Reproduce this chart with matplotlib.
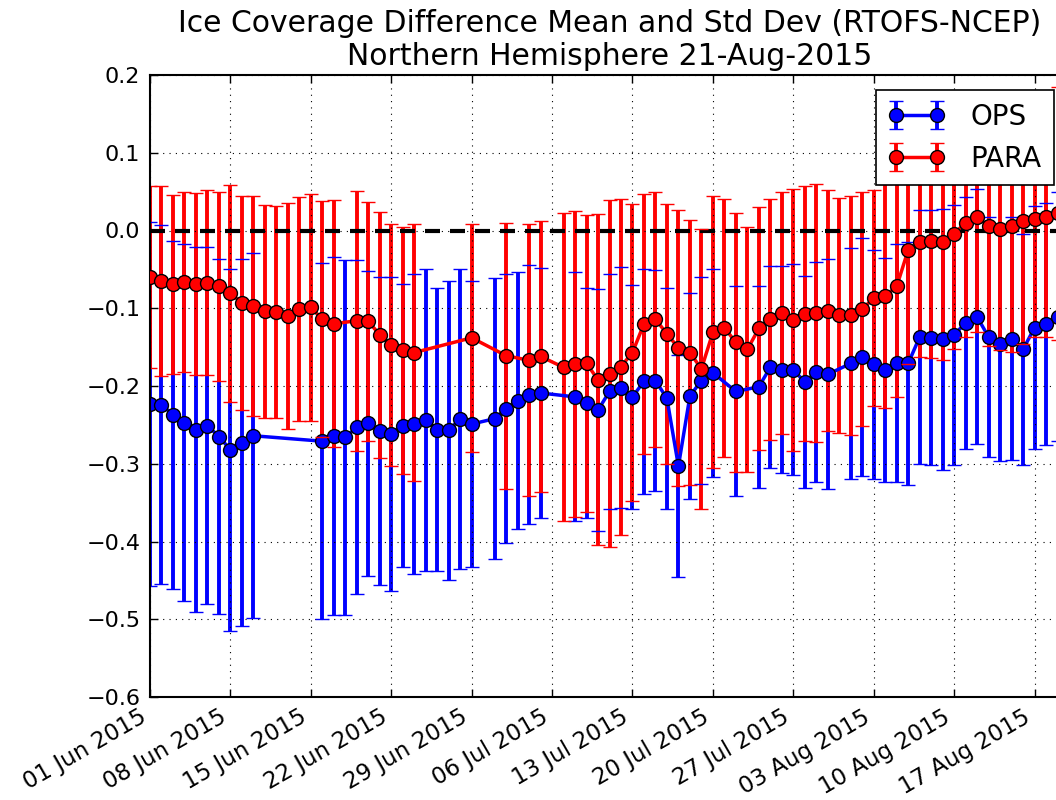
import numpy as np
import matplotlib
matplotlib.use("Agg")
import matplotlib.pyplot as plt
import matplotlib.dates as mdates
from datetime import datetime, timedelta

# ---- data (days since 01 Jun 2015) ----
start_date = datetime(2015, 6, 1)

ops_days = [0, 1, 2, 3, 4, 5, 6, 7, 8, 9, 15, 16, 17, 18, 19, 20, 21, 22, 23, 24,
            25, 26, 27, 28, 30, 31, 32, 33, 34, 37, 38, 39, 40, 41, 42, 43, 44, 45,
            46, 47, 48, 49, 51, 53, 54, 55, 56, 57, 58, 59, 61, 62, 63, 64, 65, 66,
            67, 68, 69, 70, 71, 72, 73, 74, 75, 76, 77, 78, 79]
ops_mean = [-0.223, -0.224, -0.237, -0.247, -0.256, -0.251, -0.265, -0.282, -0.273, -0.264,
            -0.271, -0.264, -0.266, -0.253, -0.248, -0.258, -0.262, -0.251, -0.249, -0.244,
            -0.256, -0.257, -0.242, -0.249, -0.242, -0.229, -0.219, -0.211, -0.209, -0.214,
            -0.222, -0.231, -0.207, -0.202, -0.214, -0.194, -0.193, -0.216, -0.303, -0.213,
            -0.193, -0.183, -0.207, -0.201, -0.176, -0.179, -0.179, -0.195, -0.182, -0.185,
            -0.171, -0.163, -0.172, -0.179, -0.171, -0.171, -0.137, -0.138, -0.140, -0.134,
            -0.119, -0.111, -0.137, -0.146, -0.139, -0.153, -0.125, -0.120, -0.111]
ops_std = [0.234, 0.231, 0.224, 0.229, 0.235, 0.230, 0.228, 0.233, 0.236, 0.235,
           0.229, 0.230, 0.228, 0.215, 0.196, 0.198, 0.202, 0.182, 0.193, 0.194,
           0.182, 0.192, 0.193, 0.184, 0.181, 0.173, 0.165, 0.167, 0.161, 0.160,
           0.148, 0.156, 0.151, 0.155, 0.144, 0.145, 0.142, 0.142, 0.143, 0.132,
           0.133, 0.134, 0.135, 0.130, 0.130, 0.133, 0.136, 0.136, 0.142, 0.148,
           0.149, 0.153, 0.147, 0.144, 0.153, 0.156, 0.163, 0.164, 0.168, 0.167,
           0.162, 0.164, 0.154, 0.151, 0.156, 0.148, 0.156, 0.156, 0.160]

para_days = [0, 1, 2, 3, 4, 5, 6, 7, 8, 9, 10, 11, 12, 13, 14, 15, 16, 18, 19, 20,
             21, 22, 23, 28, 31, 33, 34, 36, 37, 38, 39, 40, 41, 42, 43, 44, 45, 46,
             47, 48, 49, 50, 51, 52, 53, 54, 55, 56, 57, 58, 59, 60, 61, 62, 63, 64,
             65, 66, 67, 68, 69, 70, 71, 72, 73, 74, 75, 76, 77, 78, 79]
para_mean = [-0.060, -0.065, -0.069, -0.066, -0.069, -0.067, -0.072, -0.081, -0.093, -0.097,
             -0.104, -0.105, -0.110, -0.101, -0.099, -0.114, -0.120, -0.116, -0.117, -0.134,
             -0.147, -0.154, -0.157, -0.138, -0.161, -0.167, -0.162, -0.176, -0.172, -0.171,
             -0.192, -0.184, -0.175, -0.157, -0.120, -0.114, -0.133, -0.151, -0.157, -0.178,
             -0.131, -0.125, -0.144, -0.153, -0.126, -0.114, -0.106, -0.115, -0.107, -0.106,
             -0.103, -0.109, -0.109, -0.101, -0.087, -0.084, -0.072, -0.025, -0.015, -0.014,
             -0.015, -0.004, 0.010, 0.017, 0.006, 0.002, 0.006, 0.012, 0.015, 0.017, 0.022]
para_std = [0.117, 0.122, 0.115, 0.116, 0.117, 0.119, 0.122, 0.139, 0.138, 0.141,
            0.137, 0.136, 0.145, 0.144, 0.146, 0.152, 0.159, 0.167, 0.154, 0.158,
            0.156, 0.159, 0.165, 0.147, 0.171, 0.175, 0.174, 0.198, 0.197, 0.191,
            0.213, 0.223, 0.216, 0.191, 0.167, 0.164, 0.167, 0.177, 0.170, 0.180,
            0.175, 0.166, 0.167, 0.158, 0.156, 0.155, 0.156, 0.169, 0.164, 0.166,
            0.155, 0.151, 0.154, 0.150, 0.139, 0.144, 0.142, 0.147, 0.148, 0.150,
            0.151, 0.148, 0.147, 0.148, 0.155, 0.156, 0.162, 0.158, 0.152, 0.154, 0.163]

series_labels = ["OPS", "PARA"]
title_text = "Ice Coverage Difference Mean and Std Dev (RTOFS-NCEP)\nNorthern Hemisphere 21-Aug-2015"
y_ticks = [-0.6, -0.5, -0.4, -0.3, -0.2, -0.1, 0.0, 0.1, 0.2]
x_tick_days = [0, 7, 14, 21, 28, 35, 42, 49, 56, 63, 70, 77]
x_end_day = 80

plt.rcParams['font.family'] = ['DejaVu Sans']
plt.rcParams['axes.unicode_minus'] = True

fig = plt.figure(figsize=(10.56, 8.0), dpi=100)
ax = fig.add_axes([150 / 1056, 103 / 800, 919 / 1056, 622 / 800])

def to_dates(days):
    return [start_date + timedelta(days=int(d)) for d in days]

ops_x = to_dates(ops_days)
para_x = to_dates(para_days)

style = dict(fmt='-o', lw=2.5, ms=10, mec='black', mew=1.0,
             elinewidth=2.8, capsize=5, capthick=2.8)
eb1 = ax.errorbar(ops_x, ops_mean, yerr=ops_std, color='blue', ecolor='blue',
                  mfc='blue', label=series_labels[0], **style)
eb2 = ax.errorbar(para_x, para_mean, yerr=para_std, color='red', ecolor='red',
                  mfc='red', label=series_labels[1], **style)

# layering: all bars below, then caps / lines per series
for eb, base in ((eb1, 2.0), (eb2, 2.5)):
    data_line, caplines, barcols = eb.lines
    for bc in barcols:
        bc.set_zorder(1.0 if base == 2.0 else 1.1)
    for cl in caplines:
        cl.set_zorder(base)
    data_line.set_zorder(base + 0.1)

ax.axhline(0.0, color='black', ls='--', lw=3, zorder=1.5, dashes=(3.6, 2.4))

ax.set_xlim(start_date, start_date + timedelta(days=x_end_day))
ax.set_ylim(-0.6, 0.2)
ax.set_yticks(y_ticks)
ax.set_xticks(to_dates(x_tick_days))
ax.xaxis.set_major_formatter(mdates.DateFormatter('%d %b %Y'))
ax.grid(True, color='black', ls=(0, (1, 4.7)), lw=0.8)
ax.tick_params(direction='in', length=6, width=1, top=True, right=True)
ax.tick_params(axis='y', labelsize=16, pad=7)
ax.tick_params(axis='x', labelsize=16.5, pad=6)
for lab in ax.get_xticklabels():
    lab.set_rotation(30)
    lab.set_ha('right')
for sp in ax.spines.values():
    sp.set_linewidth(1.5)

ax.set_title(title_text, fontsize=21.5, pad=7, linespacing=1.2)

leg = ax.legend(loc='upper right', numpoints=2, fontsize=20, fancybox=False,
                edgecolor='black', framealpha=1.0, borderaxespad=0.55,
                handlelength=2.05, handletextpad=0.9, borderpad=0.45,
                labelspacing=0.5)
leg.get_frame().set_linewidth(1.2)

fig.savefig('out.png', dpi=100)
